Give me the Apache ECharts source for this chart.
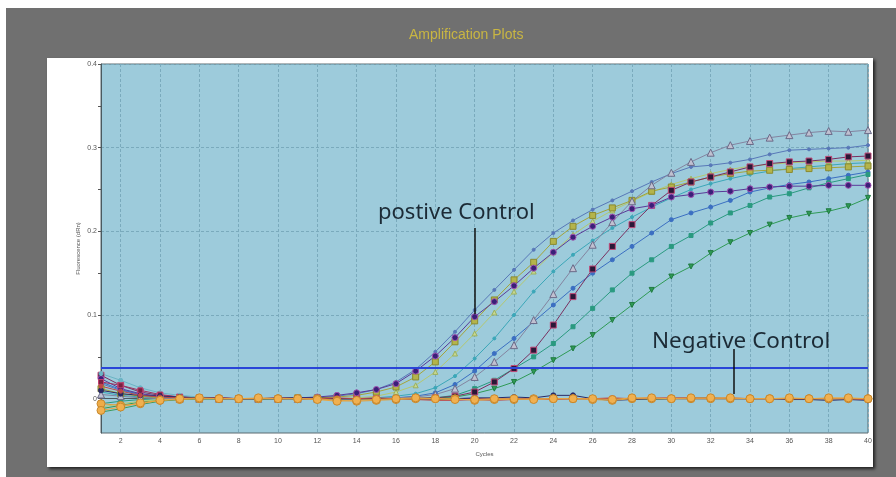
<!DOCTYPE html>
<html>
<head>
<meta charset="utf-8">
<script src="https://cdn.jsdelivr.net/npm/echarts@6/dist/echarts.min.js"></script>
<style>
html, body { margin: 0; padding: 0; background: #fff; }
#chart { width: 896px; height: 477px; }
</style>
</head>
<body>
<div id="chart"></div>
<script>
// cycle categories 1..40
var cycles = [];
for (var c = 1; c <= 40; c++) cycles.push(String(c));

var yLabelValues = [0, 0.1, 0.2, 0.3, 0.4];
var yTickValues = [0, 0.05, 0.1, 0.15, 0.2, 0.25, 0.3, 0.35, 0.4];
var threshold = 0.0365;

// positive samples
var slateBlue = [0.018,0.010,0.005,0.002,0.001,0.000,0.000,0.000,0.000,0.000,
  0.001,0.001,0.003,0.006,0.011,0.020,0.035,0.056,0.080,0.106,
  0.130,0.154,0.178,0.198,0.213,0.226,0.237,0.248,0.259,0.269,
  0.277,0.279,0.282,0.286,0.292,0.297,0.298,0.299,0.300,0.303];
var posControl = [0.024,0.012,0.006,0.003,0.001,0.001,0.000,0.000,0.000,0.000,
  0.001,0.002,0.004,0.007,0.011,0.018,0.033,0.051,0.073,0.098,
  0.116,0.135,0.156,0.175,0.193,0.206,0.217,0.227,0.231,0.241,
  0.244,0.247,0.248,0.251,0.253,0.254,0.254,0.255,0.255,0.255];
var olive = [0.012,0.006,0.003,0.001,0.000,0.000,0.000,0.000,0.000,0.000,
  0.001,0.001,0.002,0.004,0.008,0.014,0.026,0.044,0.068,0.093,
  0.118,0.142,0.163,0.188,0.206,0.219,0.228,0.237,0.248,0.253,
  0.259,0.265,0.269,0.272,0.273,0.274,0.275,0.276,0.277,0.278];
var yellowGreen = [-0.010,-0.006,-0.003,-0.001,0.000,0.000,0.000,0.000,0.000,0.000,
  0.000,0.000,0.000,0.001,0.003,0.008,0.016,0.032,0.054,0.078,
  0.103,0.128,0.152,0.175,0.196,0.212,0.225,0.236,0.247,0.256,
  0.263,0.269,0.274,0.278,0.280,0.282,0.283,0.284,0.284,0.285];
var teal = [0.008,0.004,0.002,0.001,0.000,0.000,0.000,0.000,0.000,0.000,
  0.000,0.000,0.000,0.000,0.001,0.003,0.006,0.013,0.027,0.048,
  0.072,0.100,0.128,0.152,0.172,0.189,0.204,0.217,0.229,0.240,
  0.250,0.257,0.263,0.268,0.272,0.275,0.277,0.279,0.281,0.282];
var blue = [0.020,0.011,0.005,0.002,0.001,0.000,0.000,0.000,0.000,0.000,
  0.000,0.000,0.000,0.000,0.000,0.001,0.003,0.007,0.017,0.033,
  0.054,0.072,0.092,0.112,0.132,0.150,0.166,0.182,0.198,0.214,
  0.222,0.229,0.237,0.247,0.252,0.256,0.259,0.263,0.267,0.271];
var grayTri = [0.005,0.003,0.001,0.000,0.000,0.000,0.000,0.000,0.000,0.000,
  0.000,0.000,0.000,0.000,0.000,0.001,0.002,0.005,0.012,0.026,
  0.044,0.064,0.094,0.125,0.156,0.184,0.211,0.236,0.255,0.270,
  0.283,0.294,0.303,0.308,0.312,0.315,0.318,0.320,0.319,0.321];
var darkSquare = [0.028,0.016,0.008,0.004,0.002,0.001,0.000,0.000,0.000,0.000,
  0.000,0.000,0.000,0.000,0.000,0.000,0.001,0.001,0.003,0.008,
  0.020,0.036,0.058,0.088,0.122,0.155,0.182,0.208,0.231,0.249,
  0.259,0.265,0.271,0.277,0.281,0.283,0.284,0.286,0.289,0.290];
var greenDown = [-0.012,-0.008,-0.004,-0.002,-0.001,0.000,0.000,0.000,0.000,0.000,
  0.000,0.000,0.000,0.000,0.000,0.000,0.000,0.001,0.002,0.006,
  0.012,0.020,0.032,0.046,0.060,0.076,0.094,0.112,0.130,0.146,
  0.158,0.174,0.187,0.198,0.208,0.216,0.221,0.224,0.230,0.240];
var tealSquare = [-0.006,-0.003,-0.001,0.000,0.000,0.000,0.000,0.000,0.000,0.000,
  0.000,0.000,0.000,0.000,0.000,0.000,0.000,0.001,0.004,0.012,
  0.022,0.036,0.050,0.066,0.086,0.108,0.130,0.150,0.166,0.182,
  0.195,0.210,0.222,0.231,0.241,0.245,0.252,0.258,0.263,0.268];

// negative samples
var negOrange = [-0.014,-0.010,-0.005,-0.002,0.000,0.001,0.000,0.000,0.001,0.000,
  0.000,-0.001,-0.003,-0.002,-0.001,0.000,0.001,0.000,-0.001,-0.001,
  0.000,0.000,-0.001,0.000,0.000,0.000,-0.001,0.001,0.001,0.000,
  0.001,0.001,0.001,0.000,0.000,0.001,0.000,0.001,0.001,0.000];
var negRed = [0.015,0.009,0.004,0.002,0.001,0.000,0.001,0.000,0.000,0.001,
  0.000,0.000,0.001,0.000,0.001,0.000,-0.001,-0.002,-0.002,-0.001,
  -0.002,-0.001,0.000,-0.001,0.000,0.000,0.001,0.000,0.001,0.001,
  0.001,0.000,0.001,0.000,0.000,0.000,0.000,0.000,0.000,-0.001];
var negNavy = [0.010,0.006,0.004,0.003,0.002,0.001,0.001,0.000,0.000,0.001,
  0.001,0.001,0.000,0.000,0.000,0.000,0.000,0.000,0.000,0.001,
  0.001,0.002,0.001,0.004,0.004,0.000,-0.002,-0.001,0.000,0.000,
  0.001,0.001,0.000,0.000,0.000,-0.001,-0.001,-0.002,-0.001,-0.002];
var negGreen = [-0.016,-0.012,-0.007,-0.003,-0.001,0.000,0.000,0.000,-0.001,0.000,
  0.000,0.000,0.000,0.000,-0.001,0.000,0.000,-0.001,-0.001,0.000,
  0.000,-0.001,0.000,0.000,0.000,0.000,0.000,0.000,-0.001,0.000,
  0.000,0.000,0.000,0.000,0.000,0.000,0.000,0.000,0.000,0.000];
var negLightTeal = [0.030,0.022,0.013,0.007,0.004,0.002,0.001,0.000,0.000,0.000,
  0.000,0.000,0.000,0.000,0.000,0.000,0.001,0.000,0.000,0.000,
  0.000,0.000,0.000,0.000,0.000,0.000,0.000,0.000,0.000,0.000,
  0.000,0.000,0.000,0.000,0.000,0.000,0.000,0.000,0.000,0.000];
var negMaroon = [0.020,0.016,0.010,0.005,0.002,0.001,0.001,0.000,0.000,0.000,
  0.000,0.000,0.000,0.000,0.000,0.000,0.000,0.000,0.000,0.000,
  0.000,0.000,0.000,0.000,0.000,0.000,0.000,0.000,0.000,0.000,
  0.000,0.000,0.000,0.000,0.000,0.000,0.000,0.000,0.000,-0.001];
var negOrange2 = [-0.006,-0.008,-0.006,-0.002,-0.001,0.000,0.000,0.000,0.000,0.000,
  0.000,0.000,-0.002,-0.003,-0.002,-0.001,0.000,0.000,0.000,-0.002,
  -0.001,-0.001,0.000,0.000,0.000,-0.001,-0.002,0.000,0.000,0.000,
  0.000,0.000,0.000,0.000,0.000,0.000,0.000,0.000,0.000,0.000];

function curve(name, data, lineColor, symbol, size, fill, border, rotate) {
  return {
    name: name,
    type: 'line',
    data: data,
    symbol: symbol,
    symbolSize: size,
    symbolRotate: rotate || 0,
    lineStyle: { color: lineColor, width: 1 },
    itemStyle: { color: fill || lineColor, borderColor: border || lineColor, borderWidth: 1 }
  };
}

var series = [
  curve('slateBlue', slateBlue, '#5878b8', 'circle', 3),
  curve('blue', blue, '#3b6fc2', 'circle', 4),
  curve('teal', teal, '#3ba7b8', 'circle', 3),
  curve('tealSquare', tealSquare, '#2a9a80', 'rect', 4),
  curve('greenDown', greenDown, '#2f9a55', 'triangle', 5, '#2f9a55', '#1f7a40', 180),
  curve('yellowGreen', yellowGreen, '#b4c870', 'triangle', 5, '#c8d890', '#9ab060'),
  curve('olive', olive, '#a4a43a', 'rect', 6, '#b4b44a', '#8a8a30'),
  curve('grayTri', grayTri, '#8484a0', 'triangle', 7, '#c0c0d0', '#6a6a88'),
  curve('darkSquare', darkSquare, '#7a3060', 'rect', 6, '#2a1838', '#c24a78'),
  curve('posControl', posControl, '#5a3a98', 'circle', 6, '#3a2078', '#a050b0'),
  curve('negGreen', negGreen, '#3a9a5a', 'circle', 4),
  curve('negLightTeal', negLightTeal, '#6ab4c4', 'circle', 4),
  curve('negMaroon', negMaroon, '#a0305e', 'rect', 5, '#7a2040', '#c04070'),
  curve('negNavy', negNavy, '#2a2a66', 'circle', 5),
  curve('negRed', negRed, '#c04848', 'circle', 4),
  curve('negOrange2', negOrange2, '#e0a040', 'circle', 8, '#eeac48', '#c8882c'),
  curve('negOrange', negOrange, '#e9a640', 'circle', 8, '#f0b050', '#c8882c')
];

// threshold line, carried by the positive control series
series[9].markLine = {
  symbol: 'none',
  silent: true,
  precision: 4,
  label: { show: false },
  lineStyle: { color: '#2a45d8', width: 2, type: 'solid' },
  data: [[
    { coord: [cycles[0], threshold] },
    { coord: [cycles[cycles.length - 1], threshold] }
  ]]
};

var chart = echarts.init(document.getElementById('chart'));
chart.setOption({
  animation: false,
  title: {
    text: 'Amplification Plots',
    left: 404,
    top: 23,
    textStyle: { color: '#c9b642', fontSize: 14, fontWeight: 'normal', fontFamily: 'Liberation Sans' }
  },
  graphic: [
    { type: 'rect', z: -100, shape: { x: 6, y: 8, width: 890, height: 469 }, style: { fill: '#707070' } },
    { type: 'rect', z: -99, shape: { x: 47, y: 58, width: 826, height: 409 },
      style: { fill: '#ffffff', shadowBlur: 3, shadowColor: 'rgba(0,0,0,0.7)', shadowOffsetX: 2, shadowOffsetY: 2 } },
    { type: 'text', z: 100, left: 378, top: 202,
      style: { text: 'postive Control', fill: '#1c2b36', font: '22px "Noto Sans"' } },
    { type: 'line', z: 100, shape: { x1: 475, y1: 228, x2: 475, y2: 314 }, style: { stroke: '#111', lineWidth: 1.5 } },
    { type: 'text', z: 100, left: 652, top: 330,
      style: { text: 'Negative Control', fill: '#1c2b36', font: '22.5px "Noto Sans"' } },
    { type: 'line', z: 100, shape: { x1: 734, y1: 349, x2: 734, y2: 394 }, style: { stroke: '#111', lineWidth: 1.5 } }
  ],
  grid: {
    left: 101, right: 28, top: 64, bottom: 44,
    show: true,
    backgroundColor: '#9dcbdb',
    borderColor: '#5a6a70',
    borderWidth: 1
  },
  xAxis: {
    type: 'category',
    data: cycles,
    boundaryGap: false,
    name: 'Cycles',
    nameLocation: 'middle',
    nameGap: 18,
    nameTextStyle: { fontSize: 6, color: '#555', fontFamily: 'Liberation Sans' },
    axisLine: { lineStyle: { color: '#4a5a60' } },
    axisTick: { interval: 0, length: 3, lineStyle: { color: '#555' } },
    axisLabel: {
      interval: function (i) { return (i + 1) % 2 === 0; },
      fontSize: 7, color: '#555', margin: 5, fontFamily: 'Liberation Sans'
    },
    splitLine: {
      show: true,
      interval: function (i) { return (i + 1) % 2 === 0; },
      lineStyle: { color: '#7aaabc', width: 1, type: [3, 2] }
    }
  },
  yAxis: [{
    type: 'value',
    min: -0.041,
    max: 0.4,
    name: 'Fluorescence (dRn)',
    nameLocation: 'middle',
    nameGap: 20,
    nameMoveOverlap: false,
    nameTextStyle: { fontSize: 6, color: '#555', fontFamily: 'Liberation Sans' },
    axisLine: { show: true, lineStyle: { color: '#4a5a60' } },
    axisTick: { show: true, length: 3, customValues: yLabelValues, lineStyle: { color: '#555' } },
    axisLabel: {
      customValues: yLabelValues,
      fontSize: 7, color: '#555', margin: 4, fontFamily: 'Liberation Sans',
      formatter: function (v) { return v === 0 ? '0' : v.toFixed(1); }
    },
    splitLine: { show: true, lineStyle: { color: '#7aaabc', width: 1, type: [3, 2] } }
  }, {
    // half-step ticks only
    type: 'value',
    position: 'left',
    min: -0.041,
    max: 0.4,
    axisLine: { show: false },
    axisTick: { show: true, length: 3, customValues: yTickValues, lineStyle: { color: '#555' } },
    axisLabel: { show: false },
    splitLine: { show: false }
  }],
  series: series
});
</script>
</body>
</html>
